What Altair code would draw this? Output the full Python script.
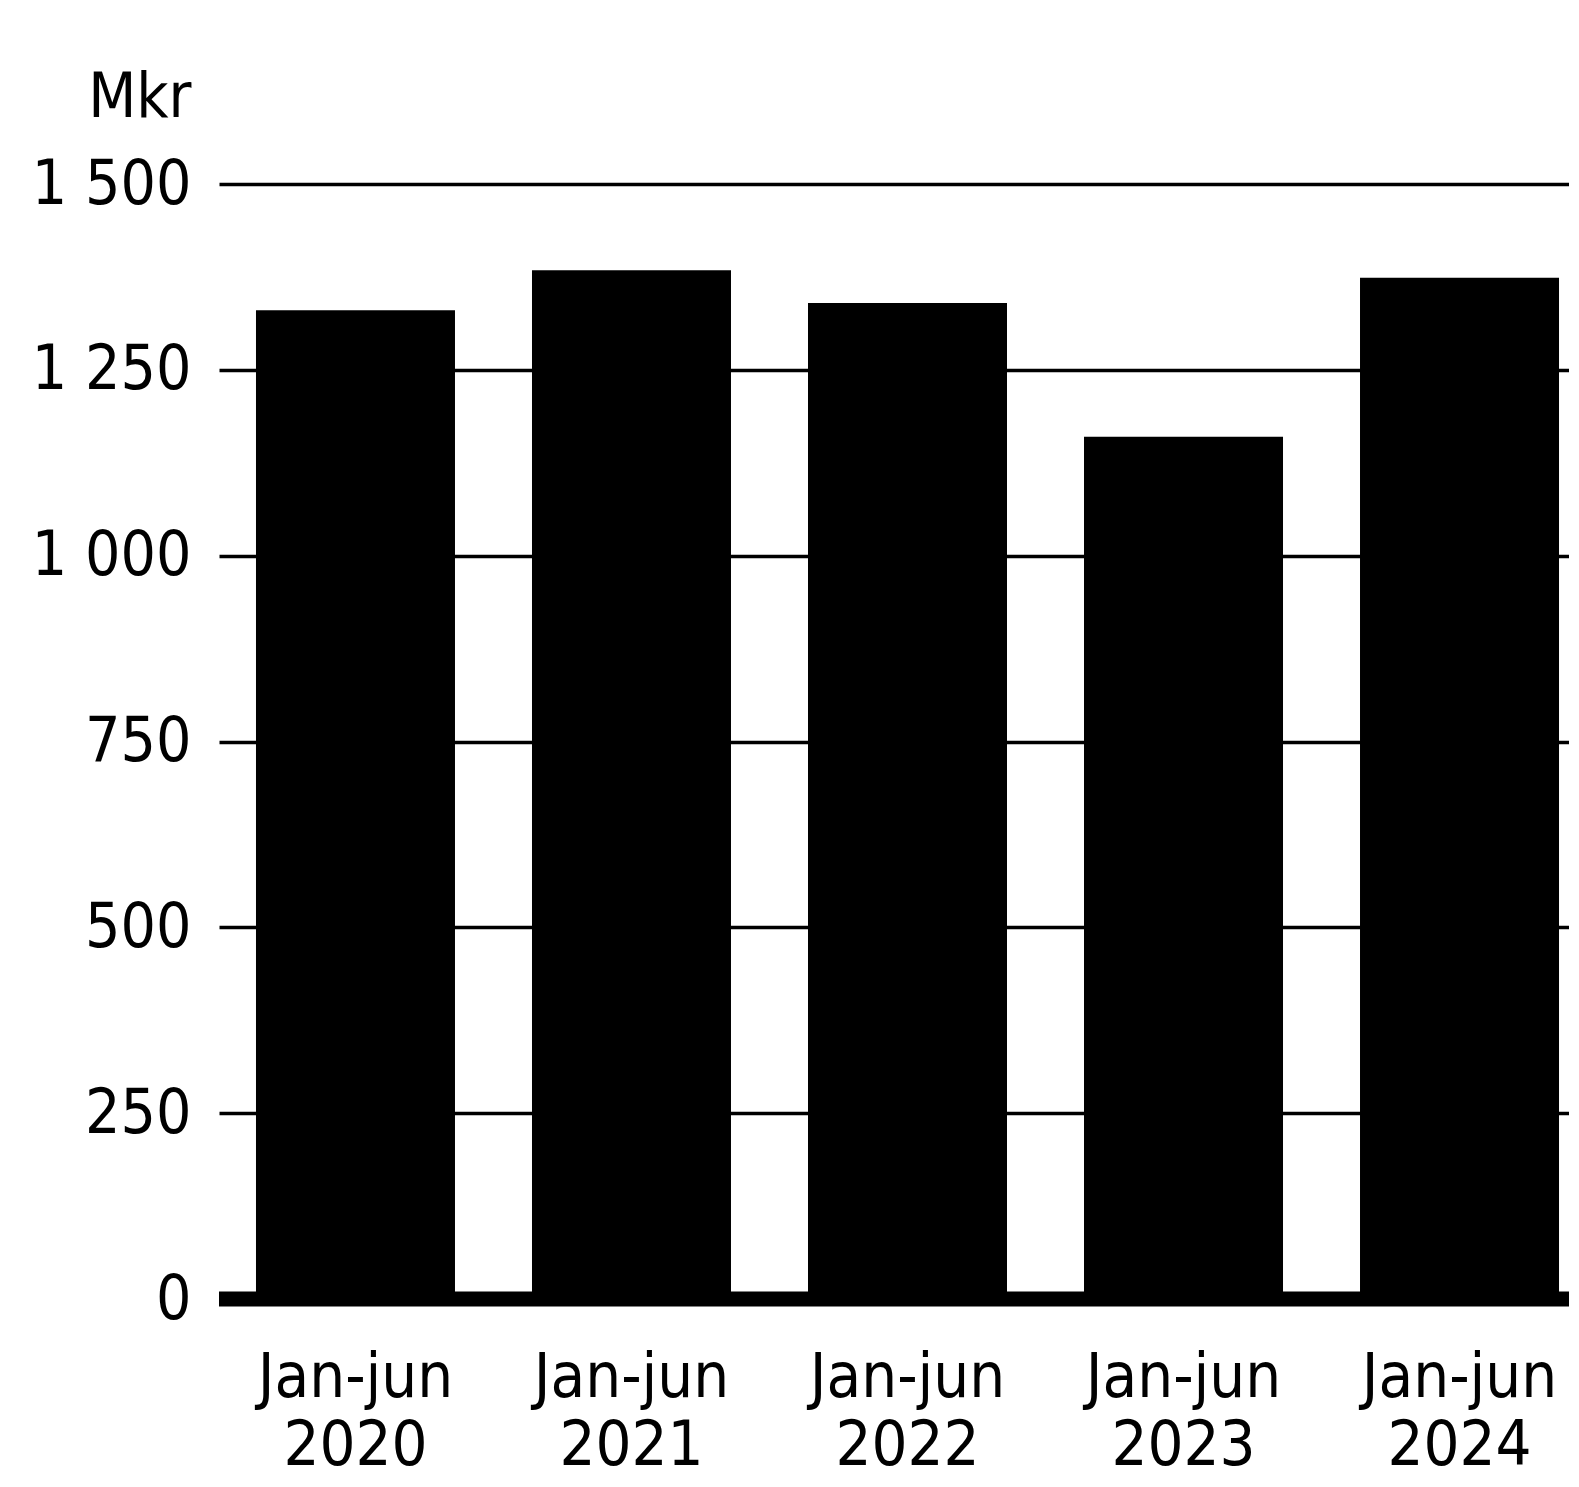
import altair as alt
import pandas as pd

periods = ["Jan-jun\n2020", "Jan-jun\n2021", "Jan-jun\n2022", "Jan-jun\n2023", "Jan-jun\n2024"]
values = [1330, 1384, 1340, 1160, 1374]
y_ticks = [0, 250, 500, 750, 1000, 1250, 1500]

df = pd.DataFrame({"period": periods, "value": values})
base_df = pd.DataFrame({"y": [0]})

FONT = "DejaVu Sans Condensed"

x_enc = alt.X(
    "period:N",
    sort=periods,
    title=None,
    scale=alt.Scale(paddingInner=0.279, paddingOuter=0.134, range=[0, 1377]),
    axis=alt.Axis(
        labelExpr="split(datum.label, '\\n')",
        labelAngle=0,
        labelFont=FONT,
        labelFontSize=63,
        labelLineHeight=68,
        labelLimit=0,
        labelColor="black",
        labelPadding=47,
        labelBaseline="top",
        ticks=False,
        tickSize=0,
        domain=False,
        grid=False,
    ),
)

y_enc = alt.Y(
    "value:Q",
    scale=alt.Scale(domain=[0, 1500], nice=False),
    axis=alt.Axis(
        values=y_ticks,
        labelExpr="replace(format(datum.value, ','), ',', ' ')",
        labelFont=FONT,
        labelFontSize=62,
        labelColor="black",
        labelPadding=28,
        ticks=False,
        tickSize=0,
        domain=False,
        grid=True,
        gridColor="black",
        gridWidth=3.5,
        gridOpacity=1,
        title="Mkr",
        titleFont=FONT,
        titleFontSize=62,
        titleFontWeight="normal",
        titleColor="black",
        titleAngle=0,
        titleAlign="right",
        titleBaseline="alphabetic",
        titleX=-28,
        titleY=-68,
    ),
)

bars = alt.Chart(df).mark_bar(color="black").encode(x=x_enc, y=y_enc)

baseline = alt.Chart(base_df).mark_rule(color="black", strokeWidth=15).encode(
    y=alt.Y("y:Q")
)

chart = (
    alt.layer(bars, baseline)
    .properties(
        width=1350,
        height=1115,
        padding={"left": 211, "top": 176, "right": 0, "bottom": 180},
        autosize=alt.AutoSizeParams(type="none"),
        background="white",
    )
    .configure_view(stroke=None)
)

chart.save("out.html", embed_options={"renderer": "svg", "actions": False})
